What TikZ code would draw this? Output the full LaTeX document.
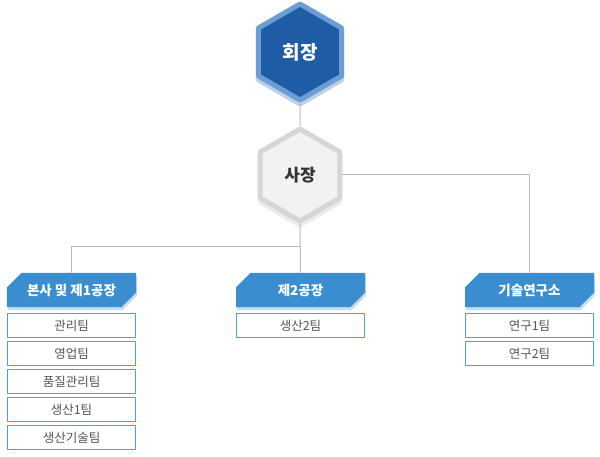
\documentclass[tikz,border=0pt]{standalone}
\usepackage{fontspec}
\setmainfont{Noto Sans CJK KR}
\usetikzlibrary{shapes.geometric,shapes.misc}

\definecolor{chairblue}{HTML}{1F5CA6}
\definecolor{chairrim}{HTML}{6C9DD4}
\definecolor{chairshade}{HTML}{BCD0EA}
\definecolor{ceofill}{HTML}{F2F2F2}
\definecolor{ceorim}{HTML}{D6D6D6}
\definecolor{ceoshade}{HTML}{ECECEC}
\definecolor{headblue}{HTML}{3A8ED0}
\definecolor{headshade}{HTML}{C3DCF1}
\definecolor{teamrim}{HTML}{4A9FE0}
\definecolor{teamtext}{HTML}{555555}
\definecolor{wire}{HTML}{BBBBBB}

\tikzset{
  hexnode/.style={regular polygon, regular polygon sides=6, shape border rotate=30,
    minimum size=96bp, inner sep=0pt, line width=5bp},
  headbox/.style={chamfered rectangle, chamfered rectangle corners={north west,south east},
    chamfered rectangle xsep=9bp, chamfered rectangle ysep=8bp,
    minimum width=129bp, minimum height=34bp, inner sep=0pt, fill=headblue,
    text=white, font=\fontsize{13.5bp}{16bp}\selectfont\bfseries,
    preaction={fill=headshade, transform canvas={xshift=1bp, yshift=-3bp}}},
  teambox/.style={draw=teamrim, line width=1.2bp, fill=white, minimum width=128bp,
    minimum height=24bp, inner sep=0pt, text=teamtext,
    font=\fontsize{12.5bp}{15bp}\selectfont},
  wireline/.style={draw=wire, line width=1bp}
}

\begin{document}
\begin{tikzpicture}[x=1bp, y=1bp, line cap=round, line join=round]
  \useasboundingbox (0,0) rectangle (600,-457);

  % hexagons, with their shades first
  \node[hexnode, draw=chairshade, fill=chairshade] at (300,-56) {};
  \node[hexnode, draw=chairrim, fill=chairblue, text=white,
    font=\fontsize{19bp}{22bp}\selectfont\bfseries] (chair) at (300,-52) {회장};
  \node[hexnode, minimum size=92bp, draw=ceoshade, fill=ceoshade] at (300,-179) {};
  \node[hexnode, minimum size=92bp, draw=ceorim, fill=ceofill, text=black!80,
    font=\fontsize{17bp}{20bp}\selectfont\bfseries] (ceo) at (300,-175) {사장};

  % department headers
  \node[headbox] (hq) at (71.5,-290) {본사 및 제1공장};
  \node[headbox] (plant) at (300.5,-290) {제2공장};
  \node[headbox] (lab) at (529.5,-290) {기술연구소};

  % teams
  \node[teambox] (hq1) at (71.5,-325.5) {관리팀};
  \node[teambox] (hq2) at (71.5,-353.5) {영업팀};
  \node[teambox] (hq3) at (71.5,-381.5) {품질관리팀};
  \node[teambox] (hq4) at (71.5,-409.5) {생산1팀};
  \node[teambox] (hq5) at (71.5,-437.5) {생산기술팀};
  \node[teambox] (plant1) at (300.5,-325.5) {생산2팀};
  \node[teambox] (lab1) at (529.5,-325.5) {연구1팀};
  \node[teambox] (lab2) at (529.5,-353.5) {연구2팀};

  % connectors
  \coordinate (split) at (300,-247);
  \path[wireline] (chair.south) -- (ceo.north);
  \path[wireline] (ceo.south) -- (plant.north);
  \path[wireline] (hq.north) |- (split);
  \path[wireline] (ceo.east) -| (lab.north);
\end{tikzpicture}
\end{document}
